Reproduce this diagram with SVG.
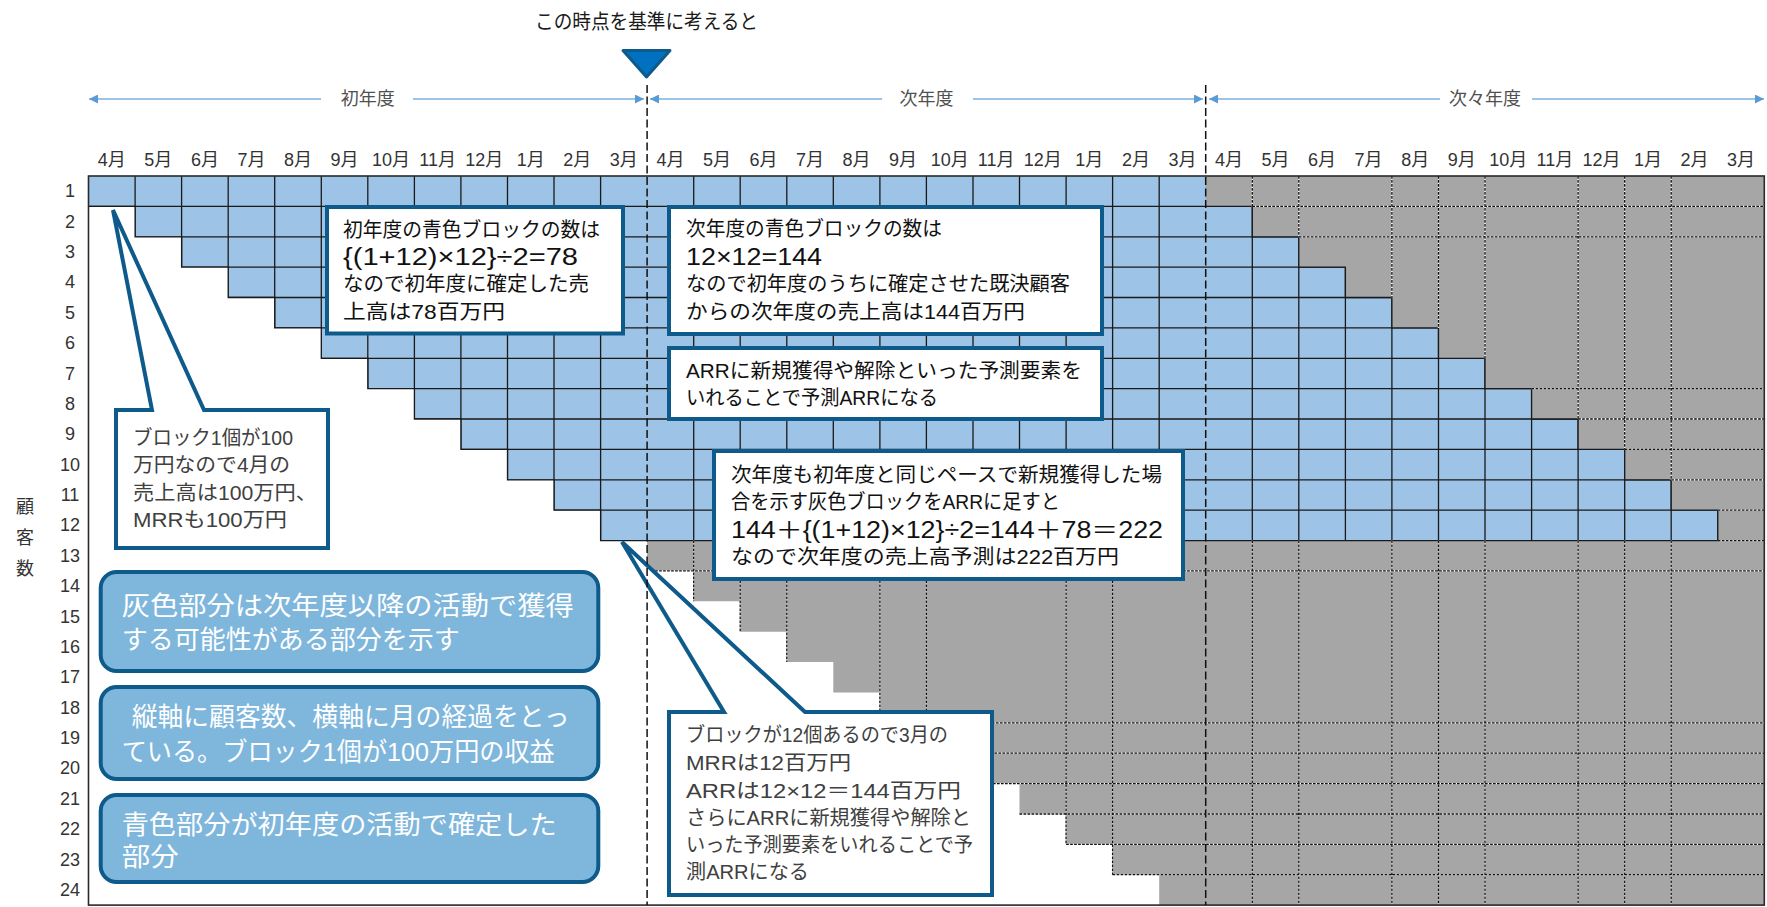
<svg xmlns="http://www.w3.org/2000/svg" xmlns:xlink="http://www.w3.org/1999/xlink" width="1767" height="907" viewBox="0 0 1767 907">
<style>
text{font-family:'Liberation Sans','Noto Sans CJK JP',sans-serif;dominant-baseline:central}
.m{font-size:18px;fill:#333;text-anchor:middle}
.yr{font-size:18px;fill:#505050;text-anchor:middle}
.bx{fill:#fff;stroke:#0E5A8A;stroke-width:4;stroke-linejoin:miter}
.rb{fill:#7EB6DC;stroke:#0E5A8A;stroke-width:4}
.bt{font-size:20px;fill:#111}
.bn{font-size:23px;fill:#111}
.ct{font-size:20px;fill:#404040}
.wt{font-size:26px;fill:#fff}
.gw{fill:none;stroke:#fff;stroke-width:1.3}
.gk{fill:none;stroke:#111;stroke-width:1.3;stroke-dasharray:2.7 1.3}
.sep{fill:none;stroke:#111;stroke-width:1.5;stroke-dasharray:8 3.5}
.tl{fill:none;stroke:#9DC3E6;stroke-width:2}
.sl{fill:none;stroke:#1a1a1a;stroke-width:1.3}
</style>
<defs>
<marker id="ah" viewBox="0 0 9 9" refX="9" refY="4.5" markerWidth="9" markerHeight="9" markerUnits="userSpaceOnUse" orient="auto">
<path d="M0,0 L9,4.5 L0,9 Z" fill="#5B9BD5"/>
</marker>
<clipPath id="bc">
<polygon points="88.5,176 1205.7,176 1205.7,206.4 1252.3,206.4 1252.3,236.8 1298.8,236.8 1298.8,267.1 1345.4,267.1 1345.4,297.5 1391.9,297.5 1391.9,327.9 1438.5,327.9 1438.5,358.3 1485,358.3 1485,388.7 1531.6,388.7 1531.6,419 1578.1,419 1578.1,449.4 1624.7,449.4 1624.7,479.8 1671.2,479.8 1671.2,510.2 1717.8,510.2 1717.8,540.6 600.6,540.6 600.6,510.2 554,510.2 554,479.8 507.5,479.8 507.5,449.4 460.9,449.4 460.9,419 414.4,419 414.4,388.7 367.8,388.7 367.8,358.3 321.3,358.3 321.3,327.9 274.7,327.9 274.7,297.5 228.2,297.5 228.2,267.1 181.6,267.1 181.6,236.8 135.1,236.8 135.1,206.4 88.5,206.4"/>
</clipPath>
<path id="gd" d="M693.7,540.6V601.3 M740.2,540.6V631.7 M786.8,540.6V662.1 M879.9,540.6V722.8 M926.4,540.6V753.2 M1066.1,540.6V844.4 M1112.6,540.6V874.7 M1252.3,176V206.4 M1252.3,540.6V905.1 M1298.8,176V236.8 M1298.8,540.6V905.1 M1391.9,176V297.5 M1391.9,540.6V905.1 M1438.5,176V327.9 M1438.5,540.6V905.1 M1485,176V358.3 M1485,540.6V905.1 M1578.1,176V419 M1578.1,540.6V905.1 M1624.7,176V449.4 M1624.7,540.6V905.1 M1671.2,176V479.8 M1671.2,540.6V905.1 M1252.3,206.4H1764.3 M1298.8,236.8H1764.3 M1531.6,388.7H1764.3 M1578.1,419H1764.3 M1624.7,449.4H1764.3 M1671.2,479.8H1764.3 M1717.8,510.2H1764.3 M1717.8,540.6H1764.3 M647.1,570.9H1764.3 M879.9,722.8H1764.3 M926.4,753.2H1764.3 M973,783.6H1764.3 M1019.5,814H1764.3 M1066.1,844.4H1764.3 M1112.6,874.7H1764.3"/>
</defs>
<rect width="1767" height="907" fill="#fff"/>

<g id="title">
<text x="535" y="22" font-size="20" fill="#1a1a1a" textLength="223" lengthAdjust="spacingAndGlyphs">この時点を基準に考えると</text>
<polygon points="623,50.5 670,50.5 646.5,77" fill="#0070C0" stroke="#0E5A8A" stroke-width="3" stroke-linejoin="round"/>
</g>

<g id="connectors">
<line class="tl" x1="321" y1="99" x2="89" y2="99" marker-end="url(#ah)"/>
<line class="tl" x1="413" y1="99" x2="644" y2="99" marker-end="url(#ah)"/>
<line class="tl" x1="882" y1="99" x2="650" y2="99" marker-end="url(#ah)"/>
<line class="tl" x1="973" y1="99" x2="1203" y2="99" marker-end="url(#ah)"/>
<line class="tl" x1="1440" y1="99" x2="1209" y2="99" marker-end="url(#ah)"/>
<line class="tl" x1="1532" y1="99" x2="1764" y2="99" marker-end="url(#ah)"/>
</g>
<g id="year-labels">
<text class="yr" x="367.8" y="99">初年度</text>
<text class="yr" x="926.4" y="99">次年度</text>
<text class="yr" x="1485" y="99">次々年度</text>
</g>

<g id="months">
<text class="m" x="111.8" y="160">4月</text>
<text class="m" x="158.3" y="160">5月</text>
<text class="m" x="204.9" y="160">6月</text>
<text class="m" x="251.4" y="160">7月</text>
<text class="m" x="298" y="160">8月</text>
<text class="m" x="344.5" y="160">9月</text>
<text class="m" x="391.1" y="160">10月</text>
<text class="m" x="437.6" y="160">11月</text>
<text class="m" x="484.2" y="160">12月</text>
<text class="m" x="530.7" y="160">1月</text>
<text class="m" x="577.3" y="160">2月</text>
<text class="m" x="623.8" y="160">3月</text>
<text class="m" x="670.4" y="160">4月</text>
<text class="m" x="716.9" y="160">5月</text>
<text class="m" x="763.5" y="160">6月</text>
<text class="m" x="810" y="160">7月</text>
<text class="m" x="856.6" y="160">8月</text>
<text class="m" x="903.1" y="160">9月</text>
<text class="m" x="949.7" y="160">10月</text>
<text class="m" x="996.2" y="160">11月</text>
<text class="m" x="1042.8" y="160">12月</text>
<text class="m" x="1089.3" y="160">1月</text>
<text class="m" x="1135.9" y="160">2月</text>
<text class="m" x="1182.4" y="160">3月</text>
<text class="m" x="1229" y="160">4月</text>
<text class="m" x="1275.5" y="160">5月</text>
<text class="m" x="1322.1" y="160">6月</text>
<text class="m" x="1368.6" y="160">7月</text>
<text class="m" x="1415.2" y="160">8月</text>
<text class="m" x="1461.7" y="160">9月</text>
<text class="m" x="1508.3" y="160">10月</text>
<text class="m" x="1554.8" y="160">11月</text>
<text class="m" x="1601.4" y="160">12月</text>
<text class="m" x="1647.9" y="160">1月</text>
<text class="m" x="1694.5" y="160">2月</text>
<text class="m" x="1741" y="160">3月</text>
</g>

<g id="rows">
<text class="m" x="70" y="191.2">1</text>
<text class="m" x="70" y="221.6">2</text>
<text class="m" x="70" y="251.9">3</text>
<text class="m" x="70" y="282.3">4</text>
<text class="m" x="70" y="312.7">5</text>
<text class="m" x="70" y="343.1">6</text>
<text class="m" x="70" y="373.5">7</text>
<text class="m" x="70" y="403.9">8</text>
<text class="m" x="70" y="434.2">9</text>
<text class="m" x="70" y="464.6">10</text>
<text class="m" x="70" y="495">11</text>
<text class="m" x="70" y="525.4">12</text>
<text class="m" x="70" y="555.8">13</text>
<text class="m" x="70" y="586.1">14</text>
<text class="m" x="70" y="616.5">15</text>
<text class="m" x="70" y="646.9">16</text>
<text class="m" x="70" y="677.3">17</text>
<text class="m" x="70" y="707.7">18</text>
<text class="m" x="70" y="738">19</text>
<text class="m" x="70" y="768.4">20</text>
<text class="m" x="70" y="798.8">21</text>
<text class="m" x="70" y="829.2">22</text>
<text class="m" x="70" y="859.6">23</text>
<text class="m" x="70" y="889.9">24</text>
<text class="m" x="25" y="507">顧</text>
<text class="m" x="25" y="538">客</text>
<text class="m" x="25" y="569">数</text>
</g>

<g id="grid">
<polygon fill="#A6A6A6" points="647.1,176 1764.3,176 1764.3,905.1 1159.2,905.1 1159.2,874.7 1112.6,874.7 1112.6,844.4 1066.1,844.4 1066.1,814 1019.5,814 1019.5,783.6 973,783.6 973,753.2 926.4,753.2 926.4,722.8 879.9,722.8 879.9,692.5 833.3,692.5 833.3,662.1 786.8,662.1 786.8,631.7 740.2,631.7 740.2,601.3 693.7,601.3 693.7,570.9 647.1,570.9"/>
<rect x="0" y="0" width="1767" height="907" fill="#9DC3E6" clip-path="url(#bc)"/>
<path class="sl" clip-path="url(#bc)" d="M88.5,206.4H1764.3 M88.5,236.8H1764.3 M88.5,267.1H1764.3 M88.5,297.5H1764.3 M88.5,327.9H1764.3 M88.5,358.3H1764.3 M88.5,388.7H1764.3 M88.5,419H1764.3 M88.5,449.4H1764.3 M88.5,479.8H1764.3 M88.5,510.2H1764.3 M135.1,176V540.6 M181.6,176V540.6 M228.2,176V540.6 M274.7,176V540.6 M321.3,176V540.6 M367.8,176V540.6 M414.4,176V540.6 M460.9,176V540.6 M507.5,176V540.6 M554,176V540.6 M600.6,176V540.6 M693.7,176V540.6 M740.2,176V540.6 M786.8,176V540.6 M833.3,176V540.6 M879.9,176V540.6 M926.4,176V540.6 M973,176V540.6 M1019.5,176V540.6 M1066.1,176V540.6 M1112.6,176V540.6 M1159.2,176V540.6 M1252.3,176V540.6 M1298.8,176V540.6 M1345.4,176V540.6 M1391.9,176V540.6 M1438.5,176V540.6 M1485,176V540.6 M1531.6,176V540.6 M1578.1,176V540.6 M1624.7,176V540.6 M1671.2,176V540.6 M1717.8,176V540.6"/>
<path class="sl" d="M88.5,206.4 H135.1 V236.8 H181.6 V267.1 H228.2 V297.5 H274.7 V327.9 H321.3 V358.3 H367.8 V388.7 H414.4 V419 H460.9 V449.4 H507.5 V479.8 H554 V510.2 H600.6 V540.6 H1717.8 V510.2 H1671.2 V479.8 H1624.7 V449.4 H1578.1 V419 H1531.6 V388.7 H1485 V358.3 H1438.5 V327.9 H1391.9 V297.5 H1345.4 V267.1 H1298.8 V236.8 H1252.3 V206.4 H1205.7"/>
<use xlink:href="#gd" class="gw"/>
<use xlink:href="#gd" class="gk"/>
<rect x="88.5" y="176" width="1675.8" height="729.1" fill="none" stroke="#2a2a2a" stroke-width="1.6"/>
</g>

<g id="box-first-year">
<rect class="bx" x="327" y="207" width="296" height="126.5"/>
<text class="bt" x="343" y="230" textLength="257" lengthAdjust="spacingAndGlyphs">初年度の青色ブロックの数は</text>
<text class="bn" x="343" y="257" textLength="235" lengthAdjust="spacingAndGlyphs">{(1+12)×12}÷2=78</text>
<text class="bt" x="343" y="284" textLength="246" lengthAdjust="spacingAndGlyphs">なので初年度に確定した売</text>
<text class="bt" x="343" y="311.5" textLength="162" lengthAdjust="spacingAndGlyphs">上高は78百万円</text>
</g>

<g id="box-next-year">
<rect class="bx" x="669" y="207" width="433" height="127"/>
<text class="bt" x="686" y="229" textLength="256" lengthAdjust="spacingAndGlyphs">次年度の青色ブロックの数は</text>
<text class="bn" x="686" y="256.7" textLength="136" lengthAdjust="spacingAndGlyphs">12×12=144</text>
<text class="bt" x="686" y="284" textLength="384" lengthAdjust="spacingAndGlyphs">なので初年度のうちに確定させた既決顧客</text>
<text class="bt" x="686" y="311.7" textLength="339" lengthAdjust="spacingAndGlyphs">からの次年度の売上高は144百万円</text>
</g>

<g id="box-arr">
<rect class="bx" x="669" y="348" width="433" height="71"/>
<text class="bt" x="686" y="370.7" textLength="396" lengthAdjust="spacingAndGlyphs">ARRに新規獲得や解除といった予測要素を</text>
<text class="bt" x="686" y="398" textLength="252" lengthAdjust="spacingAndGlyphs">いれることで予測ARRになる</text>
</g>

<g id="box-forecast">
<rect class="bx" x="714" y="451" width="469" height="128"/>
<text class="bt" x="731" y="475" textLength="431" lengthAdjust="spacingAndGlyphs">次年度も初年度と同じペースで新規獲得した場</text>
<text class="bt" x="731" y="501.7" textLength="329" lengthAdjust="spacingAndGlyphs">合を示す灰色ブロックをARRに足すと</text>
<text class="bn" x="731" y="530" textLength="432" lengthAdjust="spacingAndGlyphs">144＋{(1+12)×12}÷2=144＋78＝222</text>
<text class="bt" x="731" y="556.7" textLength="388" lengthAdjust="spacingAndGlyphs">なので次年度の売上高予測は222百万円</text>
</g>

<g id="callout-block">
<path class="bx" d="M116,410 L152,410 L113,210 L204,410 L328,410 L328,548 L116,548 Z"/>
<text class="ct" x="133" y="438" textLength="160" lengthAdjust="spacingAndGlyphs">ブロック1個が100</text>
<text class="ct" x="133" y="465" textLength="157" lengthAdjust="spacingAndGlyphs">万円なので4月の</text>
<text class="ct" x="133" y="493" textLength="184" lengthAdjust="spacingAndGlyphs">売上高は100万円、</text>
<text class="ct" x="133" y="520" textLength="154" lengthAdjust="spacingAndGlyphs">MRRも100万円</text>
</g>

<g id="callout-march">
<path class="bx" d="M669,712 L724,712 L622,542 L805,712 L992,712 L992,895 L669,895 Z"/>
<text class="ct" x="686" y="735" textLength="262" lengthAdjust="spacingAndGlyphs">ブロックが12個あるので3月の</text>
<text class="ct" x="686" y="763" textLength="165" lengthAdjust="spacingAndGlyphs">MRRは12百万円</text>
<text class="ct" x="686" y="791" textLength="275" lengthAdjust="spacingAndGlyphs">ARRは12×12＝144百万円</text>
<text class="ct" x="686" y="818" textLength="285" lengthAdjust="spacingAndGlyphs">さらにARRに新規獲得や解除と</text>
<text class="ct" x="686" y="845" textLength="287" lengthAdjust="spacingAndGlyphs">いった予測要素をいれることで予</text>
<text class="ct" x="686" y="872" textLength="123" lengthAdjust="spacingAndGlyphs">測ARRになる</text>
</g>

<g id="separators">
<line class="sep" x1="647.1" y1="85" x2="647.1" y2="905"/>
<line class="sep" x1="1205.7" y1="85" x2="1205.7" y2="905"/>
</g>

<g id="note-gray">
<rect class="rb" x="100.7" y="572" width="497.6" height="99" rx="16"/>
<text class="wt" x="121.7" y="606" textLength="452" lengthAdjust="spacingAndGlyphs">灰色部分は次年度以降の活動で獲得</text>
<text class="wt" x="121.7" y="640" textLength="338" lengthAdjust="spacingAndGlyphs">する可能性がある部分を示す</text>
</g>
<g id="note-axes">
<rect class="rb" x="100.7" y="687" width="497.6" height="92" rx="16"/>
<text class="wt" x="131.7" y="717" textLength="438" lengthAdjust="spacingAndGlyphs">縦軸に顧客数、横軸に月の経過をとっ</text>
<text class="wt" x="121.7" y="752" textLength="433" lengthAdjust="spacingAndGlyphs">ている。ブロック1個が100万円の収益</text>
</g>
<g id="note-blue">
<rect class="rb" x="100.7" y="795" width="497.6" height="87" rx="16"/>
<text class="wt" x="121.7" y="825" textLength="435" lengthAdjust="spacingAndGlyphs">青色部分が初年度の活動で確定した</text>
<text class="wt" x="121.7" y="857" textLength="57" lengthAdjust="spacingAndGlyphs">部分</text>
</g>
</svg>
